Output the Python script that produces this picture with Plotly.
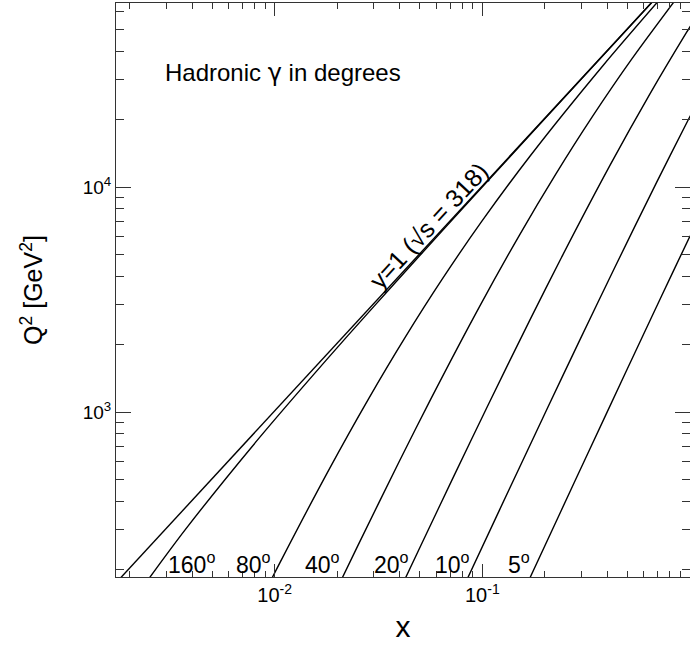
import plotly.graph_objects as go

# ---- data ----
x_y1 = [0.0017, 0.70]
q2_y1 = [172, 70787]

x_160 = [0.00217, 0.00372, 0.00837, 0.01767, 0.03007, 0.04557, 0.09208, 0.1851, 0.4641, 0.9291]
q2_160 = [153.6, 301.0, 761.8, 1697.6, 2949.7, 4516.3, 9217.8, 18622, 46837, 93862]

x_80 = [0.00870, 0.01062, 0.01821, 0.02832, 0.04249, 0.06373, 0.09913, 0.1699, 0.3824, 0.8072]
q2_80 = [149.6, 214.8, 552.4, 1145.7, 2148.2, 3866.7, 7017.4, 13748, 34800, 77549]

x_40 = [0.01964, 0.02509, 0.03985, 0.05645, 0.09678, 0.1505, 0.2258, 0.3387, 0.5269, 0.9032]
q2_40 = [158.9, 253.7, 604.4, 1141.7, 2935.9, 6089.2, 11417, 20551, 37297, 73071]

x_20 = [0.04009, 0.05064, 0.07242, 0.1069, 0.1698, 0.2405, 0.4123, 0.6414, 0.9621, 1.0423]
q2_20 = [162.2, 256.0, 512.6, 1081.1, 2575.5, 4864.7, 12509, 25945, 48647, 54810]

x_10 = [0.07976, 0.1209, 0.2057, 0.2942, 0.4342, 0.6897, 0.9770, 1.0389]
q2_10 = [161.3, 366.7, 1040.0, 2082.3, 4391.2, 10461, 19760, 22062]

x_5 = [0.1585, 0.2390, 0.3203, 0.4853, 0.6538, 0.8259, 1.0016]
q2_5 = [160.3, 362.5, 647.7, 1472.4, 2644.8, 4176.0, 6077.3]

angle_labels = ["160", "80", "40", "20", "10", "5"]
x_tick_vals = [0.01, 0.1, 1]
x_tick_text = ["10<sup>-2</sup>", "10<sup>-1</sup>", "1"]
y_tick_vals = [1000, 10000]
y_tick_text = ["10<sup>3</sup>", "10<sup>4</sup>"]

FONT = "Liberation Sans, Arial, Helvetica, sans-serif"
AX = "#333333"

fig = go.Figure()
curves = [(x_y1, q2_y1), (x_160, q2_160), (x_80, q2_80), (x_40, q2_40),
          (x_20, q2_20), (x_10, q2_10), (x_5, q2_5)]
for xs, ys in curves:
    fig.add_trace(go.Scatter(x=xs, y=ys, mode="lines",
                             line=dict(color="black", width=1.4, shape="spline", smoothing=0.8),
                             showlegend=False, hoverinfo="skip"))

x_minor = [m * 10.0 ** e for e in (-3, -2, -1) for m in range(2, 10)]
y_minor = [m * 10.0 ** e for e in (2, 3, 4) for m in range(2, 10)]

fig.update_xaxes(type="log", range=[-2.764, 0.0], showgrid=False, zeroline=False,
                 showline=True, linecolor=AX, linewidth=1, mirror="allticks",
                 ticks="inside", ticklen=13, tickcolor=AX, tickwidth=1,
                 tickvals=x_tick_vals, ticktext=x_tick_text,
                 tickfont=dict(family=FONT, size=20, color="black"),
                 minor=dict(ticks="inside", ticklen=6, tickcolor=AX, tickvals=x_minor, showgrid=False),
                 title=dict(text="x", font=dict(family=FONT, size=30, color="black"), standoff=10))
fig.update_yaxes(type="log", range=[2.267, 4.818], showgrid=False, zeroline=False,
                 showline=True, linecolor=AX, linewidth=1, mirror="allticks",
                 ticks="inside", ticklen=15, tickcolor=AX, tickwidth=1,
                 tickvals=y_tick_vals, ticktext=y_tick_text,
                 tickfont=dict(family=FONT, size=19, color="black"),
                 minor=dict(ticks="inside", ticklen=8, tickcolor=AX, tickvals=y_minor, showgrid=False),
                 title=dict(text="Q<sup>2</sup> [GeV<sup>2</sup>]", font=dict(family=FONT, size=25, color="black"), standoff=32))

annots = []
annots.append(dict(text="Hadronic <span style='font-family:DejaVu Sans'>γ</span> in degrees", x=0.291, y=0.878, xref="paper", yref="paper",
                   xanchor="center", yanchor="middle",
                   showarrow=False, font=dict(family=FONT, size=24, color="black")))
annots.append(dict(text="y=1 (√s = 318)", x=0.5436, y=0.612, xref="paper", yref="paper",
                   xanchor="center", yanchor="middle",
                   showarrow=False, textangle=-47.2, font=dict(family=FONT, size=25, color="black")))
label_x = [0.1324, 0.2404, 0.3606, 0.4808, 0.5854, 0.7021]
for lab, xp in zip(angle_labels, label_x):
    annots.append(dict(text=lab + "<sup>o</sup>", x=xp, y=0.024, xref="paper", yref="paper",
                       xanchor="center", yanchor="middle",
                       showarrow=False, font=dict(family=FONT, size=23, color="black")))
fig.update_layout(annotations=annots)

fig.update_layout(width=690, height=646, margin=dict(l=116, r=0, t=3, b=69),
                  paper_bgcolor="white", plot_bgcolor="white")

fig.write_html("out.html")
